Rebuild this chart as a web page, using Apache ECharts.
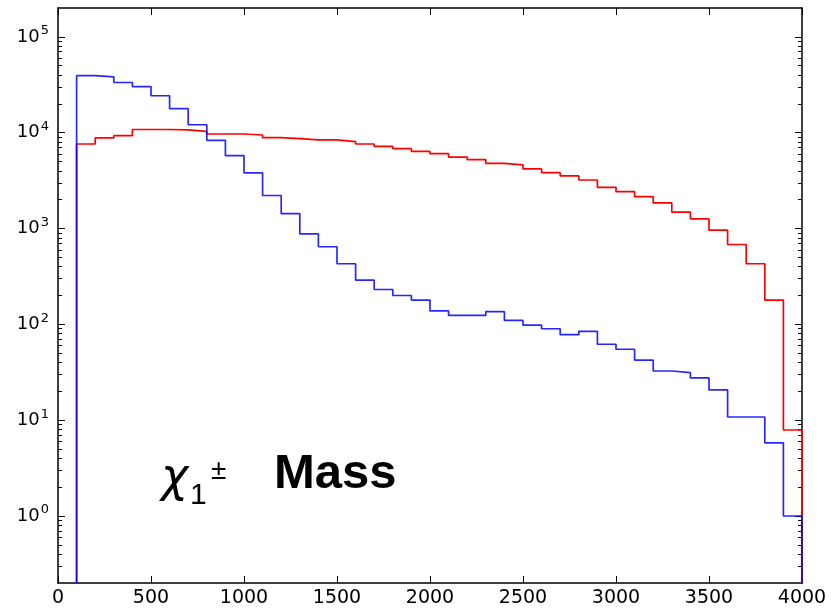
<!DOCTYPE html>
<html>
<head>
<meta charset="utf-8">
<script src="https://cdn.jsdelivr.net/npm/echarts@6/dist/echarts.min.js"></script>
<style>
html,body{margin:0;padding:0;background:#fff;}
#chart{width:836px;height:608px;}
</style>
</head>
<body>
<div id="chart"></div>
<script>
// bin left edges (bin width 100)
const binStart = [100,200,300,400,500,600,700,800,900,1000,1100,1200,1300,1400,1500,1600,1700,1800,1900,2000,
  2100,2200,2300,2400,2500,2600,2700,2800,2900,3000,3100,3200,3300,3400,3500,3600,3700,3800,3900];
const binEndLast = 4000;
const blueCounts = [39300,38300,33400,30300,24300,17800,12100,8320,5750,3800,2210,1430,881,645,429,289,231,200,179,138,
  124,124,136,110,98,90,78,84.5,62,55,42.4,32.6,31.3,27.6,20.7,10.8,10.8,5.8,1.0];
const redCounts = [7620,8820,9300,10800,10800,10700,10300,9690,9690,9460,8900,8660,8400,8400,8050,7620,7200,6810,6380,6040,
  5550,5230,4790,4610,4190,3830,3540,3210,2690,2430,2150,1850,1480,1260,960,681,429,179,7.9];
const xTicks = [0,500,1000,1500,2000,2500,3000,3500,4000];
const yMajor = [1,10,100,1000,10000,100000];
const yMinor = [0.3,0.4,0.5,0.6,0.7,0.8,0.9,
  2,3,4,5,6,7,8,9, 20,30,40,50,60,70,80,90, 200,300,400,500,600,700,800,900,
  2000,3000,4000,5000,6000,7000,8000,9000, 20000,30000,40000,50000,60000,70000,80000,90000];
const yMin = 0.2, yMax = 200000;
const FLOOR = 0.01; // below axis min: histogram outline drops to zero

function stepData(edges, counts) {
  const d = [[edges[0], FLOOR]];
  for (let i = 0; i < edges.length; i++) d.push([edges[i], counts[i]]);
  d.push([binEndLast, counts[counts.length - 1]]);
  d.push([binEndLast, FLOOR]);
  return d;
}

const chart = echarts.init(document.getElementById('chart'), null, {renderer: 'canvas'});
const lineCol = '#000';
const yAxisBase = {type: 'log', logBase: 10, min: yMin, max: yMax, splitLine: {show: false}};
const option = {
  animation: false,
  backgroundColor: '#fff',
  grid: {left: 58, right: 34, top: 8, bottom: 23, show: false},
  xAxis: [
    {type: 'value', min: 0, max: 4000, interval: 500, position: 'bottom',
     axisLine: {show: true, lineStyle: {color: lineCol, width: 1.5}},
     axisTick: {show: true, inside: true, length: 7, customValues: xTicks, lineStyle: {color: lineCol, width: 1}},
     axisLabel: {show: true, customValues: xTicks, fontFamily: 'DejaVu Sans', fontSize: 19, color: '#000', margin: 6,
       formatter: function (v) { return String(Math.round(v)); }},
     splitLine: {show: false}},
    {type: 'value', min: 0, max: 4000, interval: 500, position: 'top',
     axisLine: {show: true, lineStyle: {color: lineCol, width: 1.5}},
     axisTick: {show: true, inside: true, length: 7, customValues: xTicks, lineStyle: {color: lineCol, width: 1}},
     axisLabel: {show: false}, splitLine: {show: false}}
  ],
  yAxis: [
    Object.assign({}, yAxisBase, {position: 'left',
     axisLine: {show: true, lineStyle: {color: lineCol, width: 1.5}},
     axisTick: {show: true, inside: true, length: 7, customValues: yMajor, lineStyle: {color: lineCol, width: 1}},
     axisLabel: {show: true, customValues: yMajor, margin: 9,
       formatter: function (v) { return '{b|10}{s|' + Math.round(Math.log10(v)) + '}'; },
       rich: {
         b: {fontFamily: 'DejaVu Sans', fontSize: 18, color: '#000'},
         s: {fontFamily: 'DejaVu Sans', fontSize: 13, color: '#000', padding: [0, 0, 12, 1]}
       }}}),
    Object.assign({}, yAxisBase, {position: 'left',
     axisLine: {show: false},
     axisTick: {show: true, inside: true, length: 4, customValues: yMinor, lineStyle: {color: lineCol, width: 1}},
     axisLabel: {show: false}}),
    Object.assign({}, yAxisBase, {position: 'right',
     axisLine: {show: true, lineStyle: {color: lineCol, width: 1.5}},
     axisTick: {show: true, inside: true, length: 7, customValues: yMajor, lineStyle: {color: lineCol, width: 1}},
     axisLabel: {show: false}}),
    Object.assign({}, yAxisBase, {position: 'right',
     axisLine: {show: false},
     axisTick: {show: true, inside: true, length: 4, customValues: yMinor, lineStyle: {color: lineCol, width: 1}},
     axisLabel: {show: false}})
  ],
  series: [
    {type: 'line', name: 'red', data: stepData(binStart, redCounts), step: 'end', showSymbol: false,
     xAxisIndex: 0, yAxisIndex: 0, clip: true,
     lineStyle: {color: '#ff0000', width: 1.7}, itemStyle: {color: '#ff0000'}, z: 2},
    {type: 'line', name: 'blue', data: stepData(binStart, blueCounts), step: 'end', showSymbol: false,
     xAxisIndex: 0, yAxisIndex: 0, clip: true,
     lineStyle: {color: '#0000ff', width: 1.7, opacity: 0.85}, itemStyle: {color: '#0000ff'}, z: 3}
  ],
  graphic: [
    {type: 'text', left: 161, top: 456, style: {text: 'χ', fontFamily: 'DejaVu Sans', fontStyle: 'italic', fontSize: 46, fill: '#000'}},
    {type: 'text', left: 190, top: 481, style: {text: '1', fontFamily: 'Liberation Sans', fontSize: 30, fill: '#000'}},
    {type: 'text', left: 211, top: 457, style: {text: '±', fontFamily: 'Liberation Sans', fontSize: 28, fill: '#000'}},
    {type: 'text', left: 274, top: 450, style: {text: 'Mass', fontFamily: 'Liberation Sans', fontWeight: 'bold', fontSize: 49, fill: '#000'}}
  ]
};
chart.setOption(option);
</script>
</body>
</html>
